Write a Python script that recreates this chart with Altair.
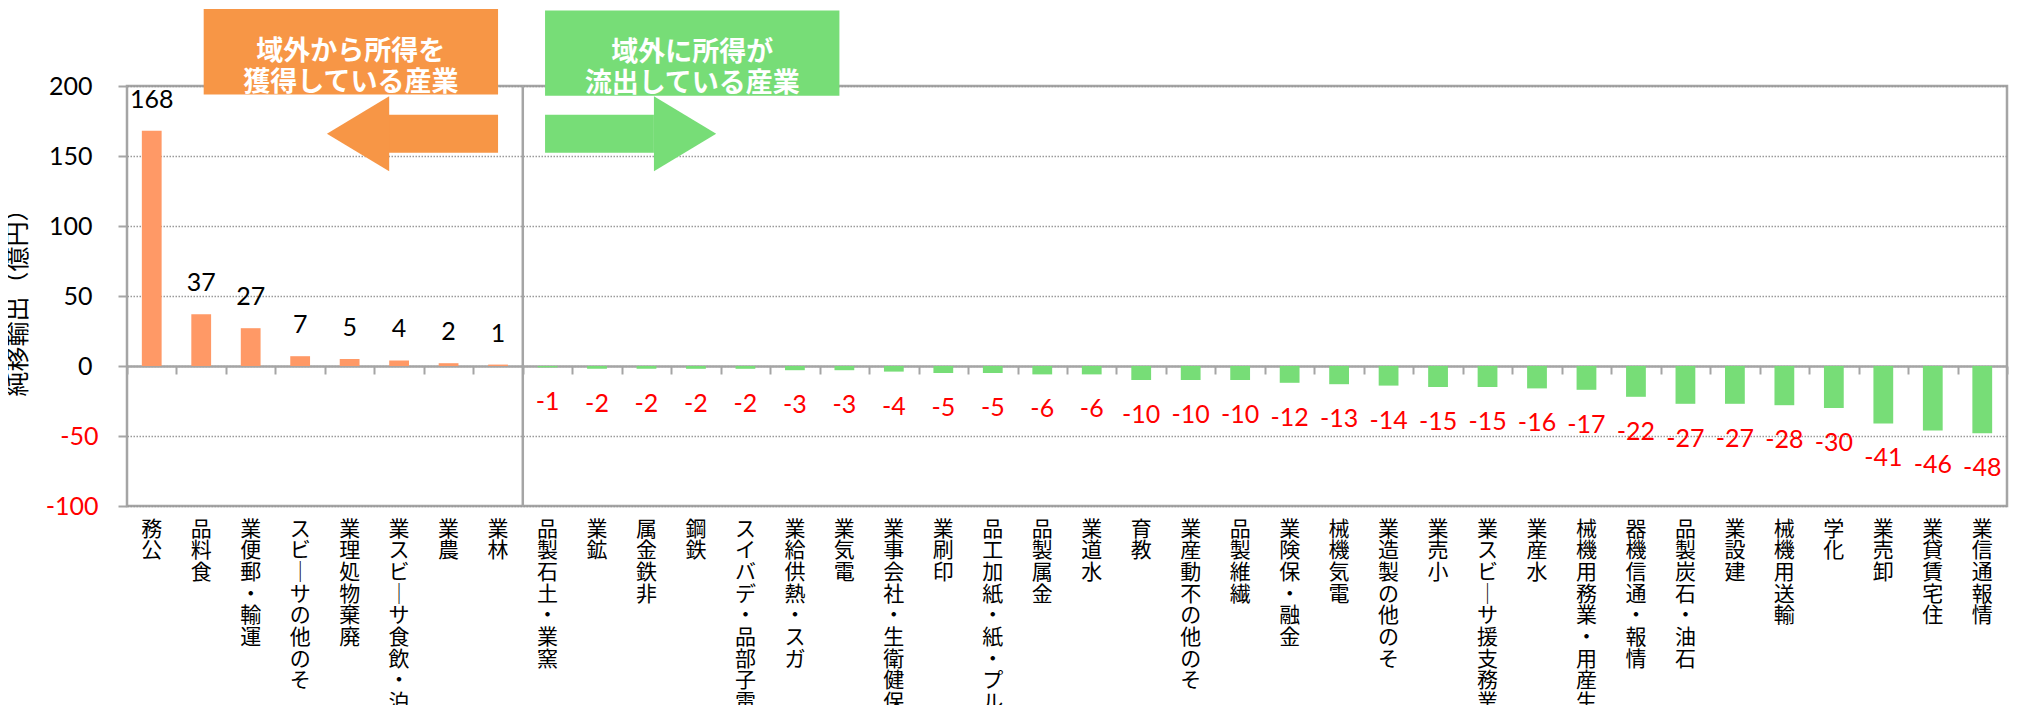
import json
import altair as alt
import pandas as pd

# ---------------- data ----------------
categories = [
    "公務", "食料品", "運輸・郵便業", "その他のサービス", "廃棄物処理業",
    "宿泊・飲食サービス業", "農業", "林業",
    "窯業・土石製品", "鉱業", "非鉄金属", "鉄鋼", "電子部品・デバイス",
    "ガス・熱供給業", "電気業", "保健衛生・社会事業", "印刷業",
    "パルプ・紙・紙加工品", "金属製品", "水道業", "教育", "その他の不動産業",
    "繊維製品", "金融・保険業", "電気機械", "その他の製造業", "小売業",
    "業務支援サービス業", "水産業", "生産用・業務用機械", "情報・通信機器",
    "石油・石炭製品", "建設業", "輸送用機械", "化学", "卸売業", "住宅賃貸業",
    "情報通信業",
]
values = [
    168, 37, 27, 7, 5, 4, 2, 1,
    -1, -2, -2, -2, -2, -3, -3, -4, -5, -5, -6, -6, -10, -10, -10, -12,
    -13, -14, -15, -15, -16, -17, -22, -27, -27, -28, -30, -41, -46, -48,
]
y_ticks_pos = [0, 50, 100, 150, 200]
y_ticks_neg = [-100, -50]
y_title = "純移輸出（億円）"
box_labels = ["域外から所得を\n獲得している産業", "域外に所得が\n流出している産業"]
box_groups = ["out", "in"]

# ---------------- styles ----------------
W, H = 1880, 420
Y_DOMAIN = [-100, 200]
GRAY = "#A5A5A5"
GRID = "#9A9A9A"
ORANGE_BAR = "#FF9966"
ORANGE_BOX = "#F79646"
GREEN = "#77DD77"
RED = "#FF0000"
NUM_FONT = "Lato"
CJK_FONT = "Noto Sans CJK JP"

df = pd.DataFrame({"cat": categories, "val": values})
df["grp"] = ["pos" if v > 0 else "neg" for v in values]
df["lbl"] = [str(v) for v in values]

# vertical (stacked, bottom-to-top) label text for the category axis
DASHES = {ord(c): "│" for c in "ー―－—ｰ─"}
stacked = [list(reversed(list(c.translate(DASHES)))) for c in categories]
label_expr = "{}[indexof({}, datum.label)]".format(
    json.dumps(stacked, ensure_ascii=False),
    json.dumps(categories, ensure_ascii=False),
)

x_scale = alt.Scale(domain=categories, paddingInner=0, paddingOuter=0)
y_scale = alt.Scale(domain=Y_DOMAIN, nice=False, zero=False)


def x_nom(axis=None):
    return alt.X("cat:N", scale=x_scale, sort=categories, axis=axis)


def y_axis(vals, color, pad, with_title):
    kw = dict(
        orient="left", values=vals, domain=False,
        ticks=True, tickSize=9, tickWidth=2, tickColor=GRAY,
        labelFont=NUM_FONT, labelFontSize=25, labelPadding=pad,
        labelColor=color, labelExpr="'' + datum.value",
        grid=True, gridColor=GRID, gridDash=[1.5, 1.5], gridWidth=1.5,
    )
    if with_title:
        kw.update(
            title=y_title, titleFont=CJK_FONT, titleFontSize=25,
            titleFontWeight="normal", titleColor="#000000",
            titleX=-110, titleY=H / 2, titleBaseline="middle",
            titleAlign="center", titleAngle=-90,
        )
    else:
        kw.update(title=None)
    return alt.Axis(**kw)


base = alt.Chart(df)

bars = base.mark_bar(width=alt.RelativeBandSize(0.4)).encode(
    x=x_nom(alt.Axis(
        orient="bottom", title=None, domain=False, ticks=False, grid=False,
        labelAngle=0, labelFont=CJK_FONT, labelFontSize=21,
        labelLineHeight=21.7, labelBaseline="top", labelAlign="center",
        labelPadding=12, labelOverlap=False, labelColor="#000000",
        labelLimit=1000, labelExpr=label_expr,
    )),
    y=alt.Y("val:Q", scale=y_scale,
            axis=y_axis(y_ticks_pos, "#000000", 26, True)),
    color=alt.Color("grp:N", scale=alt.Scale(domain=["pos", "neg"],
                                             range=[ORANGE_BAR, GREEN]),
                    legend=None),
)

neg_axis = base.mark_bar(opacity=0).encode(
    x=x_nom(None),
    y=alt.Y("val:Q", scale=y_scale,
            axis=y_axis(y_ticks_neg, RED, 20, False)),
)

zero_axis = base.mark_bar(opacity=0).encode(
    x=x_nom(alt.Axis(
        orient="bottom",
        offset=-(H * (0 - Y_DOMAIN[0]) / (Y_DOMAIN[1] - Y_DOMAIN[0])),
        title=None, labels=False, grid=False,
        domain=True, domainColor=GRAY, domainWidth=2.5,
        ticks=True, tickBand="extent", tickSize=8, tickWidth=2,
        tickColor=GRAY,
    )),
    y=alt.Y("val:Q", scale=y_scale, axis=None),
)

pos_text = base.transform_filter("datum.val > 0").mark_text(
    font=NUM_FONT, fontSize=25, color="#000000", baseline="alphabetic", dy=-23
).encode(
    x=x_nom(None),
    y=alt.Y("val:Q", scale=y_scale, axis=None),
    text="lbl:N",
)

neg_text = base.transform_filter("datum.val < 0").mark_text(
    font=NUM_FONT, fontSize=25, color=RED, baseline="alphabetic", dy=43
).encode(
    x=x_nom(None),
    y=alt.Y("val:Q", scale=y_scale, axis=None),
    text="lbl:N",
)

divider = alt.Chart(pd.DataFrame({"cat": [categories[8]]})).mark_rule(
    color=GRAY, strokeWidth=2.5
).encode(
    x=alt.X("cat:N", scale=x_scale, bandPosition=0, axis=None),
)

# ---------------- annotations (category-index units x value units) ----------------
n = len(categories)
xi_scale = alt.Scale(domain=[0, n], nice=False, zero=False)

ann_color = alt.Color("g:N", scale=alt.Scale(domain=box_groups,
                                             range=[ORANGE_BOX, GREEN]),
                      legend=None)

boxes_df = pd.DataFrame({
    "g": box_groups,
    "label": box_labels,
    "x1": [1.55, 8.45], "x2": [7.5, 14.4],
    "y1": [194.0, 193.0], "y2": [255.0, 254.0],
})
boxes_df["xm"] = (boxes_df["x1"] + boxes_df["x2"]) / 2
boxes_df["ym"] = (boxes_df["y1"] + boxes_df["y2"]) / 2

box_rects = alt.Chart(boxes_df).mark_rect().encode(
    x=alt.X("x1:Q", scale=xi_scale, axis=None),
    x2="x2:Q",
    y=alt.Y("y1:Q", scale=y_scale, axis=None),
    y2="y2:Q",
    color=ann_color,
)

box_text = alt.Chart(boxes_df).mark_text(
    font=CJK_FONT, fontSize=27, fontWeight="bold", color="#FFFFFF",
    lineBreak="\n", lineHeight=31, baseline="middle", align="center",
).encode(
    x=alt.X("xm:Q", scale=xi_scale, axis=None),
    y=alt.Y("ym:Q", scale=y_scale, axis=None),
    text="label:N",
)

# arrow shafts
shafts_df = pd.DataFrame({
    "g": box_groups,
    "x1": [5.29, 8.45], "x2": [7.5, 10.65],
    "y1": [152.3, 152.3], "y2": [179.4, 179.4],
})
shafts = alt.Chart(shafts_df).mark_rect().encode(
    x=alt.X("x1:Q", scale=xi_scale, axis=None),
    x2="x2:Q",
    y=alt.Y("y1:Q", scale=y_scale, axis=None),
    y2="y2:Q",
    color=ann_color,
)

# arrow heads (triangles, 62px long x 75px tall)
heads_df = pd.DataFrame({
    "g": box_groups,
    "x": [4.67, 11.28],
    "y": [165.9, 165.9],
})
head_left = alt.Chart(heads_df).transform_filter("datum.g == 'out'").mark_point(
    shape="M -0.83 0 L 0.83 -1 L 0.83 1 Z", size=75 * 75, filled=True,
    opacity=1, strokeWidth=0,
).encode(
    x=alt.X("x:Q", scale=xi_scale, axis=None),
    y=alt.Y("y:Q", scale=y_scale, axis=None),
    color=ann_color,
)
head_right = alt.Chart(heads_df).transform_filter("datum.g == 'in'").mark_point(
    shape="M 0.83 0 L -0.83 -1 L -0.83 1 Z", size=75 * 75, filled=True,
    opacity=1, strokeWidth=0,
).encode(
    x=alt.X("x:Q", scale=xi_scale, axis=None),
    y=alt.Y("y:Q", scale=y_scale, axis=None),
    color=ann_color,
)

chart = alt.layer(
    bars, neg_axis, zero_axis, divider, pos_text, neg_text,
    box_rects, shafts, head_left, head_right, box_text,
).resolve_scale(
    x="independent", color="independent"
).resolve_axis(
    x="independent", y="independent"
).properties(
    width=W, height=H,
    background="#FFFFFF",
    autosize=alt.AutoSizeParams(type="none"),
    padding={"left": 119, "top": 78, "right": 3, "bottom": 199},
).configure_view(
    stroke=GRAY, strokeWidth=2.5
)

chart.save("out.html", embed_options={"renderer": "svg", "actions": False})
